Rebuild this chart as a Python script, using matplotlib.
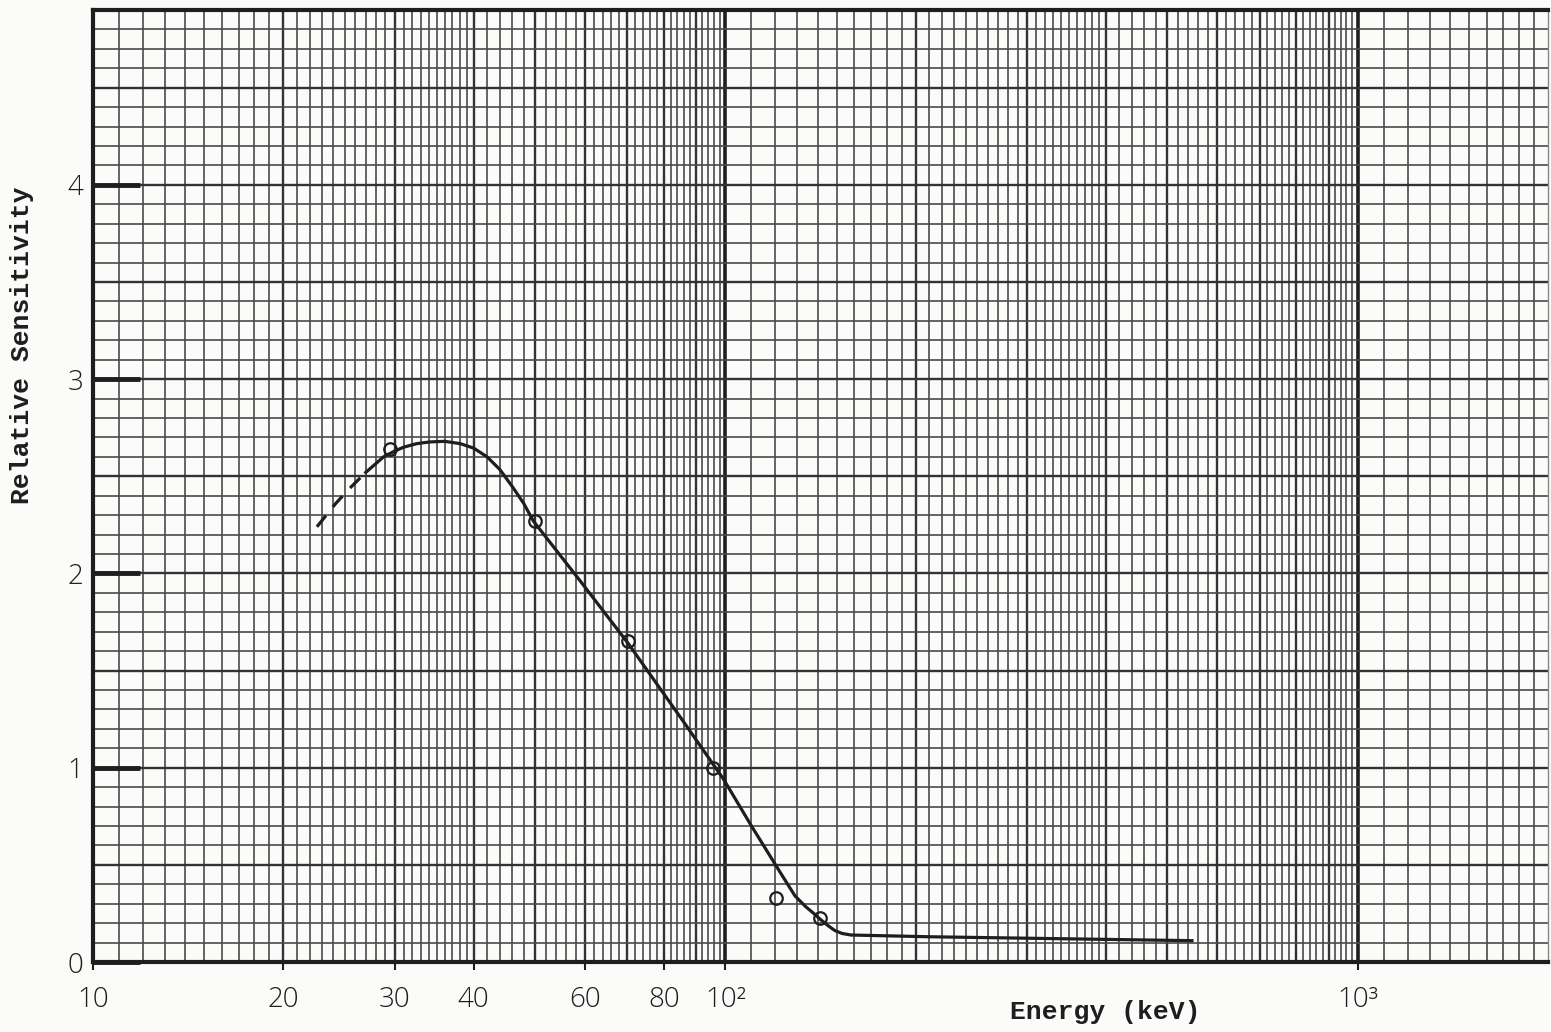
import numpy as np
import matplotlib
matplotlib.use("Agg")
import matplotlib.pyplot as plt
from matplotlib.ticker import NullLocator

# measured points (energy in keV, relative sensitivity)
pt_energy = [29.5, 50.0, 70.2, 95.7, 120.4, 141.0]
pt_sens = [2.64, 2.27, 1.65, 1.00, 0.33, 0.225]

# hand-drawn curve, dashed extrapolation at low energy
dash_energy = [22.6, 24.2, 25.5, 27.0]
dash_sens = [2.24, 2.36, 2.44, 2.52]

curve_energy = [27.0, 28.0, 28.8, 30.0, 31.0, 32.5, 34.1, 36.0, 38.1, 40.0,
                42.0, 44.0, 46.2, 48.0, 49.7, 59.0, 70.2, 84.9, 99.4, 110.0,
                122.2, 128.9, 134.0, 138.0, 141.3, 145.0, 149.0, 153.0,
                158.0, 211.0, 547.0]
curve_sens = [2.52, 2.565, 2.60, 2.63, 2.65, 2.668, 2.677, 2.68, 2.668, 2.645,
              2.60, 2.535, 2.44, 2.36, 2.27, 1.96, 1.64, 1.26, 0.94, 0.70,
              0.46, 0.34, 0.285, 0.25, 0.22, 0.19, 0.162, 0.147,
              0.139, 0.13, 0.11]

xtick_vals = [10, 20, 30, 40, 60, 80, 100, 1000]
xtick_text = ["10", "20", "30", "40", "60", "80", "10²", "10³"]
ytick_vals = [0, 1, 2, 3, 4]

hand = ["Open Sans", "DejaVu Sans"]
ink = "#1e1e1e"

fig = plt.figure(figsize=(15.51, 10.32), dpi=100)
fig.patch.set_facecolor("#fbfbfa")
ax = fig.add_axes([0.05996, 0.0678, 0.9381, 0.9225])
ax.set_facecolor("#fbfbfa")
ax.set_xscale("log")
ax.set_xlim(10, 2000)
ax.set_ylim(0, 4.9)

# log graph paper: 0.1 steps up to 4, 0.2 steps up to 10 in each decade
mant = np.concatenate([np.arange(1.0, 4.0, 0.1), np.arange(4.0, 10.0, 0.2)])
for dec in [10, 100, 1000]:
    for m in mant:
        v = dec * m
        if v > 2000:
            continue
        if abs(m - 1) < 1e-6:
            ax.axvline(v, color="#1e1e1e", lw=2.6, zorder=1)
        elif abs(m - round(m)) < 1e-6:
            ax.axvline(v, color="#333333", lw=1.7, zorder=1)
        else:
            ax.axvline(v, color="#4a4a4a", lw=1.2, zorder=1)

for i in range(1, 49):
    y = i / 10
    if i % 5 == 0:
        ax.axhline(y, color="#333333", lw=1.7, zorder=1)
    else:
        ax.axhline(y, color="#4a4a4a", lw=1.2, zorder=1)

ax.plot(dash_energy, dash_sens, color=ink, lw=2.3, ls=(0, (4.5, 3.5)), zorder=3)
ax.plot(curve_energy, curve_sens, color=ink, lw=2.3, zorder=3,
        solid_joinstyle="round")
ax.plot(pt_energy, pt_sens, "o", mfc="none", mec=ink, ms=9, mew=1.6, zorder=4)

ax.set_xticks(xtick_vals)
ax.set_xticklabels(xtick_text)
ax.xaxis.set_minor_locator(NullLocator())
ax.set_yticks(ytick_vals)
ax.set_yticklabels([str(v) for v in ytick_vals])
ax.tick_params(axis="x", direction="out", length=6, width=1.5, pad=11,
               labelsize=20, colors=ink)
ax.tick_params(axis="y", direction="in", length=34, width=3.5, pad=7,
               labelsize=20, colors=ink)
for lab in ax.get_xticklabels() + ax.get_yticklabels():
    lab.set_fontfamily(hand)
    lab.set_fontweight("light")

for side in ["left", "bottom", "top"]:
    ax.spines[side].set_linewidth(3)
    ax.spines[side].set_color(ink)
ax.spines["right"].set_linewidth(1)
ax.spines["right"].set_color("#888888")

fig.text(0.0142, 0.6657, "Relative Sensitivity", rotation=90, ha="center",
         va="center", fontsize=19, fontweight="bold",
         family=["Liberation Mono", "DejaVu Sans Mono"], color=ink)
fig.text(0.7125, 0.0194, "Energy (keV)", ha="center", va="center",
         fontsize=19, fontweight="bold",
         family=["Liberation Mono", "DejaVu Sans Mono"], color=ink)

fig.savefig("out.png", dpi=100, facecolor=fig.get_facecolor())
